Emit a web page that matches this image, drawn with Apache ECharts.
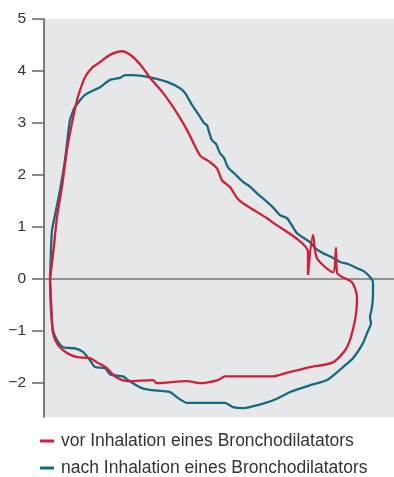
<!DOCTYPE html>
<html>
<head>
<meta charset="utf-8">
<script src="https://cdn.jsdelivr.net/npm/echarts@6/dist/echarts.min.js"></script>
<style>
html,body{margin:0;padding:0;background:#fff;}
#c{width:394px;height:477px;}
</style>
</head>
<body>
<div id="c"></div>
<script>
// Volume (L, arbitrary origin) vs flow (L/s)
const seriesNames = ['vor Inhalation eines Bronchodilatators', 'nach Inhalation eines Bronchodilatators'];
const yTicks = [-2, -1, 0, 1, 2, 3, 4, 5];

const vorVolume = [0.12,0.18,0.26,0.36,0.46,0.56,0.66,0.72,0.82,0.96,1.12,1.32,1.56,1.78,1.98,2.12,2.38,2.58,2.86,3.12,3.32,3.46,3.56,3.72,3.86,3.98,4.46,4.52,5.28,5.28,5.38,5.46,5.78,5.84,5.86,6.16,6.26,6.22,6.06,5.78,5.32,4.82,4.56,3.62,3.48,3.12,2.86,2.26,2.18,1.68,1.42,1.26,1.06,0.92,0.66,0.46,0.28,0.18,0.16,0.14,0.12];
const vorFlow   = [0,0.46,1.19,1.77,2.48,3.0,3.44,3.63,3.88,4.06,4.17,4.31,4.38,4.27,4.06,3.87,3.58,3.31,2.87,2.38,2.25,2.13,1.9,1.77,1.56,1.46,1.17,1.13,0.52,0.08,0.85,0.40,0.13,0.60,0.12,-0.06,-0.35,-0.79,-1.31,-1.6,-1.69,-1.81,-1.87,-1.87,-1.94,-2.0,-1.96,-2.0,-1.94,-1.96,-1.87,-1.71,-1.6,-1.52,-1.5,-1.42,-1.27,-1.04,-0.79,-0.4,0];

const nachVolume = [0.12,0.14,0.16,0.22,0.32,0.42,0.52,0.62,0.82,1.12,1.32,1.52,1.62,1.76,2.12,2.46,2.72,2.82,2.96,3.12,3.2,3.26,3.3,3.36,3.44,3.52,3.6,3.68,3.82,3.98,4.12,4.26,4.42,4.58,4.72,4.86,4.94,5.06,5.18,5.32,5.44,5.58,5.74,5.92,6.08,6.26,6.4,6.52,6.58,6.58,6.56,6.52,6.54,6.46,6.38,6.18,5.98,5.66,5.32,4.92,4.68,4.46,3.98,3.78,3.62,3.12,2.86,2.66,2.52,2.12,1.92,1.68,1.58,1.32,1.22,1.02,0.92,0.78,0.62,0.38,0.26,0.18,0.14,0.12];
const nachFlow   = [0,0.56,0.94,1.23,1.71,2.29,3.06,3.31,3.54,3.69,3.83,3.87,3.92,3.92,3.88,3.79,3.67,3.58,3.35,3.12,3.0,2.96,2.83,2.67,2.6,2.42,2.33,2.15,2.02,1.87,1.78,1.65,1.52,1.38,1.23,1.17,1.06,0.88,0.80,0.71,0.58,0.5,0.43,0.33,0.29,0.21,0.15,0.04,-0.06,-0.3,-0.54,-0.73,-0.85,-1.04,-1.23,-1.52,-1.69,-1.94,-2.04,-2.17,-2.29,-2.37,-2.48,-2.46,-2.38,-2.38,-2.38,-2.27,-2.17,-2.13,-2.08,-1.94,-1.87,-1.83,-1.71,-1.69,-1.56,-1.4,-1.33,-1.31,-1.17,-0.98,-0.6,0];

const zip = (a, b) => a.map((v, i) => [v, b[i]]);
const FONT = 'Liberation Sans, Arial, sans-serif';
const legendBase = {
  orient: 'vertical', left: 40, itemWidth: 14, itemHeight: 3, icon: 'rect',
  padding: 0,
  textStyle: {fontSize: 17.5, color: '#333', fontFamily: FONT, padding: [0, 0, 0, 2]}
};

const chart = echarts.init(document.getElementById('c'), null, {renderer: 'canvas'});
chart.setOption({
  animation: false,
  legend: [
    Object.assign({}, legendBase, {top: 432, data: [seriesNames[0]]}),
    Object.assign({}, legendBase, {top: 459, data: [seriesNames[1]]})
  ],
  grid: {
    left: 44, right: 0, top: 19, bottom: 60,
    show: true, backgroundColor: '#e6e7e9', borderWidth: 0
  },
  xAxis: {
    type: 'value', min: 0, max: 7,
    axisLine: {show: true, onZero: true, lineStyle: {color: '#777', width: 1.5}},
    axisTick: {show: false}, axisLabel: {show: false}, splitLine: {show: false}
  },
  yAxis: {
    type: 'value', min: -2.65, max: 5,
    axisLine: {show: true, lineStyle: {color: '#555', width: 1.5}},
    axisTick: {show: true, length: 12, customValues: yTicks, lineStyle: {color: '#666', width: 1.5}},
    axisLabel: {
      customValues: yTicks, margin: 18, fontSize: 15.5, color: '#333',
      fontFamily: FONT,
      formatter: v => String(v).replace('-', '\u2212')
    },
    splitLine: {show: false}
  },
  series: [
    {
      name: seriesNames[1], type: 'line', data: zip(nachVolume, nachFlow),
      showSymbol: false, smooth: 0.2, smoothMonotone: 'none', z: 2,
      lineStyle: {color: '#186883', width: 2.3}, itemStyle: {color: '#186883'}
    },
    {
      name: seriesNames[0], type: 'line', data: zip(vorVolume, vorFlow),
      showSymbol: false, smooth: 0.25, smoothMonotone: 'none', z: 3,
      lineStyle: {color: '#d11f38', width: 2.3}, itemStyle: {color: '#d11f38'}
    }
  ]
});
</script>
</body>
</html>
